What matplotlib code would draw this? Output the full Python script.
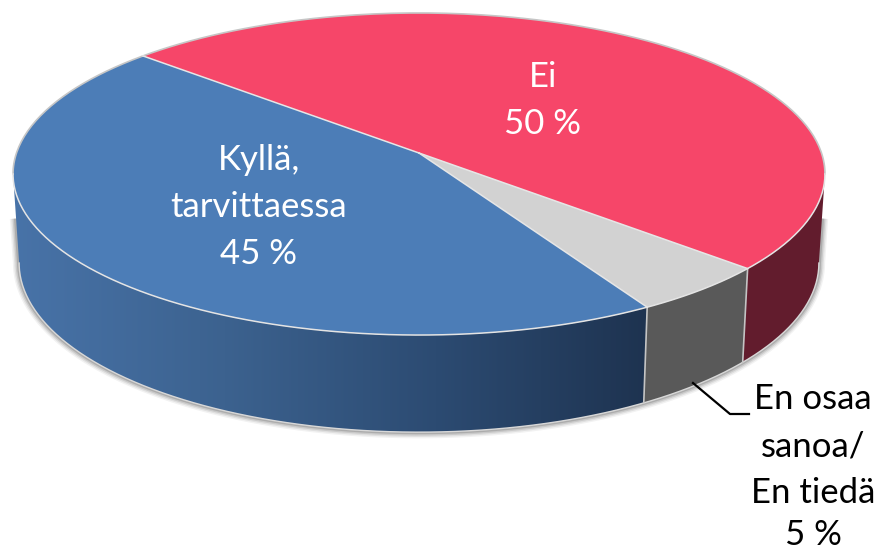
# -*- coding: utf-8 -*-

import numpy as np
import matplotlib
matplotlib.use('Agg')
import matplotlib.pyplot as plt
from matplotlib.colors import LinearSegmentedColormap
from matplotlib.patches import Polygon

plt.rcParams['font.family'] = ['Lato', 'DejaVu Sans']

# slices, clockwise from the blue/red border
names = ['Ei', 'En osaa sanoa/En tiedä', 'Kyllä, tarvittaessa']
values = [50, 5, 45]
top_colors = ['#f64669', '#d2d2d2', '#4c7db7']
side_colors = ['#621c2d', '#595959', None]
blue_side = ['#4873a8', '#3c628f', '#2c4b72', '#1e3350']

# pie geometry in picture pixels
CX, CY = 419, 153
A, B, P = 402.5, 158.3, 0.1304
FLOOR_Y = 88
FLOOR_SX, FLOOR_SY = 0.985, 1.05
START = -138.2
SILHOUETTE = np.degrees(np.arcsin(P))


def top_xy(deg):
    t = np.radians(deg)
    w = 1 - P * np.sin(t)
    return CX + A * np.cos(t) / w, CY + B * np.sin(t) / w


def floor_xy(deg):
    x, y = top_xy(deg)
    return CX + FLOOR_SX * (x - CX), CY + FLOOR_Y + FLOOR_SY * (y - CY)


def arc(func, a, b):
    return np.column_stack(func(np.linspace(a, b, 200)))


def wall(a, b):
    return np.vstack([arc(top_xy, a, b), arc(floor_xy, b, a)])


fig = plt.figure(figsize=(8.81, 5.5), dpi=100)
ax = fig.add_axes([0, 0, 1, 1])
ax.set_xlim(0, 881)
ax.set_ylim(550, 0)
ax.axis('off')

# angle limits of each slice
edges = START + np.cumsum([0] + values) * 3.6

# soft shadow under the visible wall, starts halfway down the wall
lowedge = arc(floor_xy, SILHOUETTE, 180 - SILHOUETTE)
right_mid = (arc(top_xy, SILHOUETTE, SILHOUETTE)[0] + lowedge[0]) / 2
left_mid = (arc(top_xy, 180 - SILHOUETTE, 180 - SILHOUETTE)[0] + lowedge[-1]) / 2
outline = np.vstack([right_mid, lowedge, left_mid])
for lw, al in zip([9, 7, 5, 3], [0.05, 0.07, 0.10, 0.14]):
    ax.plot(outline[:, 0], outline[:, 1], color='black', lw=lw, alpha=al,
            solid_capstyle='butt', zorder=1)

# walls
for i, (a, b) in enumerate(zip(edges[:-1], edges[1:])):
    lo, hi = a, b
    if i == 0:
        lo = max(a, SILHOUETTE)
    if i == 2:
        hi = min(b, 180 - SILHOUETTE)
    poly = wall(lo, hi)
    if side_colors[i] is not None:
        ax.add_patch(Polygon(poly, closed=True, fc=side_colors[i], ec='none', zorder=2))
    else:
        cmap = LinearSegmentedColormap.from_list('blue_side', blue_side)
        x0, x1 = poly[:, 0].min(), poly[:, 0].max()
        y0, y1 = poly[:, 1].min(), poly[:, 1].max()
        im = ax.imshow(np.linspace(0, 1, 256)[None, :], cmap=cmap, aspect='auto',
                       extent=(x0, x1, y1, y0), zorder=2)
        clip = Polygon(poly, closed=True, transform=ax.transData, fc='none', ec='none')
        ax.add_patch(clip)
        im.set_clip_path(clip)
ax.set_xlim(0, 881)
ax.set_ylim(550, 0)

# light edges of the wall
ax.plot(lowedge[:, 0], lowedge[:, 1], color='#d8d8d8', lw=1, zorder=3)
for e in edges[1:3]:
    xt, yt = top_xy(e)
    xf, yf = floor_xy(e)
    ax.plot([xt, xf], [yt, yf], color='#c4c4c4', lw=1.2, zorder=3)

# top face
for i, (a, b) in enumerate(zip(edges[:-1], edges[1:])):
    poly = np.vstack([[CX, CY], arc(top_xy, a, b)])
    ax.add_patch(Polygon(poly, closed=True, fc=top_colors[i], ec='none', zorder=4))

# outline of the top face, grey on the back, white over the wall
back = arc(top_xy, 180 - SILHOUETTE, 360 + SILHOUETTE)
front = arc(top_xy, SILHOUETTE, 180 - SILHOUETTE)
ax.plot(back[:, 0], back[:, 1], color='#c6c6c6', lw=1.2, zorder=5)
ax.plot(front[:, 0], front[:, 1], color='#e4e4e4', lw=1.1, zorder=5)
for e in edges[:3]:
    xt, yt = top_xy(e)
    ax.plot([CX, xt], [CY, yt], color='#e6e6e6', lw=1.1, zorder=5)

# labels
inner_lines = [['Ei', '50 %'], ['Kyllä,', 'tarvittaessa', '45 %']]
inner_x = [543, 259]
inner_y = [87, 170]
for lines, x, y in zip(inner_lines, inner_x, inner_y):
    for j, line in enumerate(lines):
        ax.text(x, y + j * 47, line, color='white', fontsize=25, ha='center',
                va='baseline', zorder=6)

outer_lines = ['En osaa', 'sanoa/', 'En tiedä', '5 %']
outer_y = [409, 456, 503, 545]
for line, y in zip(outer_lines, outer_y):
    ax.text(813, y, line, color='black', fontsize=25, ha='center', va='baseline', zorder=6)

# leader line
ax.plot([693, 730, 749], [383, 414, 414], color='black', lw=1.6, zorder=6)

fig.savefig('out.png', dpi=100, facecolor='white')
